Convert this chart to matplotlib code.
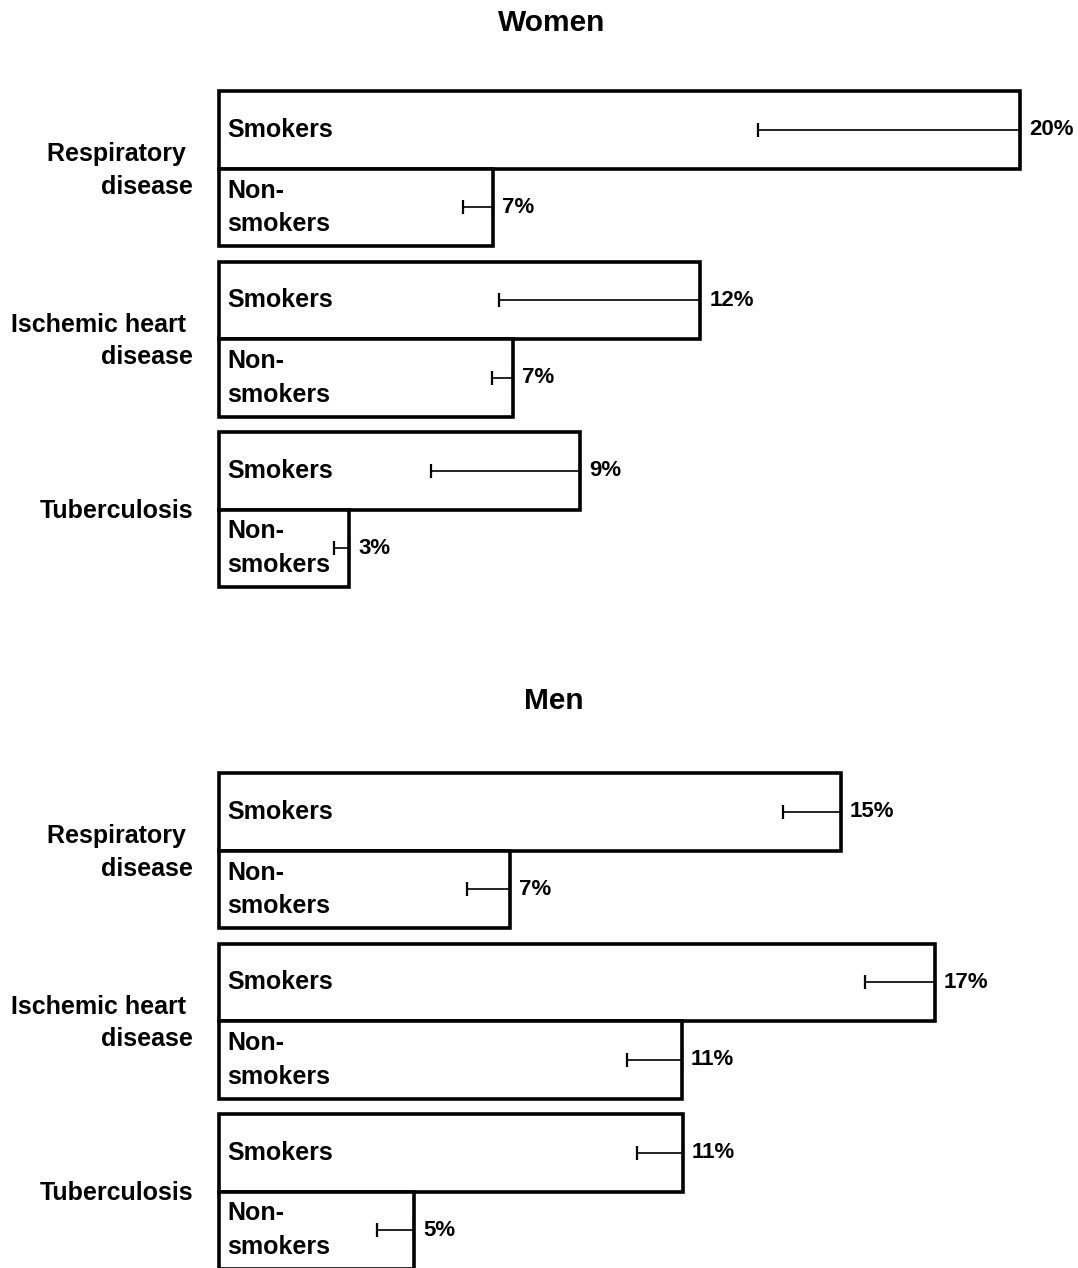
import numpy as np
import matplotlib
matplotlib.use("Agg")
import matplotlib.pyplot as plt

plt.rcParams['font.family'] = ['Liberation Sans', 'DejaVu Sans']
plt.rcParams['font.weight'] = 'bold'

# -----------------------------
# Mortality share by cause (%)
# -----------------------------

cause_labels = ["Respiratory \ndisease", "Ischemic heart \ndisease", "Tuberculosis"]
group_labels = ["Smokers", "Non-\nsmokers"]

women_smokers = [19.88, 11.94, 8.96]
women_smokers_low = [13.37, 6.95, 5.26]
women_nonsmokers = [6.80, 7.30, 3.23]
women_nonsmokers_low = [6.05, 6.77, 2.85]

men_smokers = [14.81, 17.05, 11.05]
men_smokers_low = [13.43, 15.38, 9.95]
men_nonsmokers = [6.93, 11.02, 4.64]
men_nonsmokers_low = [5.90, 9.71, 3.76]

W, H = 1078, 1268
BAR_PX = 77.5
GROUP_STEP = 2.2
SPAN = GROUP_STEP * 2 + 2


def rect(left, top, right, bottom):
    return [left / W, 1 - bottom / H, (right - left) / W, (bottom - top) / H]


def draw_panel(ax, smokers, smokers_low, non, non_low, px_per_pct):
    ax.set_xlim(0, (W - 219) / px_per_pct)
    ax.set_ylim(SPAN, 0)
    ax.axis("off")

    base = np.arange(len(cause_labels)) * GROUP_STEP
    y_s = base + 0.5
    y_n = base + 1.5

    for ys, vals, lows, lab in [(y_s, smokers, smokers_low, group_labels[0]),
                                (y_n, non, non_low, group_labels[1])]:
        vals = np.array(vals)
        lows = np.array(lows)
        ax.barh(ys, vals, height=1.0, color="white", edgecolor="black",
                linewidth=2.6, clip_on=False, zorder=2)
        # only the lower side of the interval is shown
        ax.errorbar(vals, ys, xerr=[vals - lows, np.zeros_like(vals)],
                    fmt="none", ecolor="black", elinewidth=1.2, capsize=4.7,
                    capthick=1.6, zorder=3, clip_on=False)
        for y, v in zip(ys, vals):
            ax.annotate(lab, xy=(0, y), xytext=(8, 0), textcoords="offset pixels",
                        ha="left", va="center", fontsize=18, linespacing=1.5,
                        zorder=4)
            ax.annotate(f"{v:.0f}%", xy=(v, y), xytext=(9, 0),
                        textcoords="offset pixels", ha="left", va="center",
                        fontsize=16, zorder=4)

    for y, lab in zip(base + 1.0, cause_labels):
        ax.annotate(lab, xy=(0, y), xytext=(-26, -2), textcoords="offset pixels",
                    ha="right", va="center", multialignment="right",
                    fontsize=18, linespacing=1.45)


fig = plt.figure(figsize=(W / 100, H / 100), dpi=100)

ax_w = fig.add_axes(rect(219, 91, W, 91 + SPAN * BAR_PX))
draw_panel(ax_w, women_smokers, women_smokers_low,
           women_nonsmokers, women_nonsmokers_low, 40.3)
fig.text(552 / W, 1 - 23 / H, "Women", ha="center", va="center", fontsize=21.5)

ax_m = fig.add_axes(rect(219, 773, W, 773 + SPAN * BAR_PX))
draw_panel(ax_m, men_smokers, men_smokers_low,
           men_nonsmokers, men_nonsmokers_low, 42.0)
fig.text(554 / W, 1 - 701 / H, "Men", ha="center", va="center", fontsize=21.5)

fig.savefig("out.png", dpi=100, facecolor="white")
